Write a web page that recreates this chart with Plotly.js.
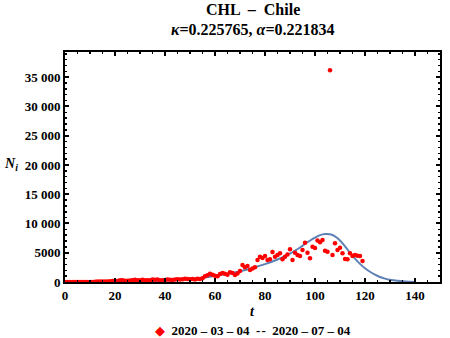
<!DOCTYPE html>
<html>
<head>
<meta charset="utf-8">
<script src="https://cdn.plot.ly/plotly-3.0.1.min.js"></script>
<style>
  html, body { margin: 0; padding: 0; background: #fff; }
</style>
</head>
<body>
<div id="chart" style="width:450px;height:338px;"></div>
<script>
// daily new cases, t = days since 2020-03-04
var tDays = [];
for (var i = 0; i < 120; i++) tDays.push(i);
var newCases = [
  0, 1, 1, 2, 0, 3, 4, 5, 10, 13,
  18, 14, 43, 81, 82, 92, 104, 91, 114, 176,
  220, 164, 304, 299, 224, 229, 272, 300, 369, 307,
  304, 373, 301, 306, 310, 426, 399, 426, 286, 312,
  357, 425, 390, 358, 436, 466, 445, 473, 552, 494,
  482, 520, 442, 552, 507, 620, 985, 1138, 1427, 1228,
  1066, 980, 1373, 1533, 1391, 1247, 1658, 1525, 1197, 1450,
  1880, 2900, 2500, 2750, 2050, 2300, 2510, 3760, 4330, 4100,
  4450, 3760, 3900, 5130, 4330, 4620, 4900, 3900, 4330, 4700,
  5590, 3760, 5010, 4620, 4450, 5470, 6720, 5010, 4050, 6040,
  5820, 7070, 6780, 7180, 5350, 5170, 36180, 4620, 6610, 5470,
  5870, 4900, 3910, 3880, 4900, 4450, 4620, 4500, 4450, 3590
];

// fitted model curve
var fitT = [0, 10, 20, 30, 40, 45, 50, 55, 60, 65, 70, 75, 80, 85, 90, 94, 97, 100,
            102, 104, 106, 108, 110, 112, 114, 116, 118, 120, 122, 124, 126, 128, 130, 133, 136, 140];
var fitN = [0, 10, 40, 110, 250, 360, 520, 720, 1050, 1400, 1850, 2400, 3050, 3850, 4850, 5900, 6800, 7600,
            8000, 8200, 8150, 7800, 7100, 6100, 5000, 4000, 3100, 2350, 1750, 1250, 850, 580, 380, 200, 90, 20];

var xTickVals = [0, 20, 40, 60, 80, 100, 120, 140];
var yTickVals = [0, 5000, 10000, 15000, 20000, 25000, 30000, 35000];
var yTickText = ['0', '5000', '10 000', '15 000', '20 000', '25 000', '30 000', '35 000'];

var serif = 'Liberation Serif, Times New Roman, serif';

var data = [
  {
    x: fitT,
    y: fitN,
    type: 'scatter',
    mode: 'lines',
    line: { color: '#5E81B5', width: 2, shape: 'spline' },
    hoverinfo: 'skip'
  },
  {
    x: tDays,
    y: newCases,
    type: 'scatter',
    mode: 'markers',
    marker: { color: '#FF0000', size: 4.5 }
  }
];

var axisCommon = {
  showgrid: false,
  zeroline: false,
  showline: true,
  linecolor: '#000',
  linewidth: 2,
  mirror: 'ticks',
  ticks: 'inside',
  ticklen: 4,
  tickwidth: 2,
  tickcolor: '#000',
  tickfont: { family: serif, size: 13, color: '#000', weight: 'bold' }
};

var layout = {
  width: 450,
  height: 338,
  showlegend: false,
  paper_bgcolor: '#fff',
  plot_bgcolor: '#fff',
  margin: { l: 65, r: 10, t: 52, b: 56 },
  xaxis: Object.assign({}, axisCommon, {
    range: [0, 150],
    tickvals: xTickVals,
    minor: { dtick: 5, ticks: 'inside', ticklen: 2, tickwidth: 1.5, tickcolor: '#000' }
  }),
  yaxis: Object.assign({}, axisCommon, {
    range: [0, 39300],
    tickvals: yTickVals,
    ticktext: yTickText,
    minor: { dtick: 1000, ticks: 'inside', ticklen: 2, tickwidth: 1.5, tickcolor: '#000' }
  }),
  annotations: [
    {
      xref: 'paper', yref: 'paper',
      x: 0.5, y: 1.183,
      xanchor: 'center', yanchor: 'middle',
      text: '<b>CHL  \u2013  Chile</b>',
      showarrow: false,
      font: { family: serif, size: 16, color: '#000' }
    },
    {
      xref: 'paper', yref: 'paper',
      x: 0.5, y: 1.096,
      xanchor: 'center', yanchor: 'middle',
      text: '<b><i>\u03ba</i>=0.225765, <i>\u03b1</i>=0.221834</b>',
      showarrow: false,
      font: { family: serif, size: 16, color: '#000' }
    },
    {
      xref: 'paper', yref: 'paper',
      x: -0.145, y: 0.51,
      xanchor: 'center', yanchor: 'middle',
      text: '<b><i>N<sub>i</sub></i></b>',
      showarrow: false,
      font: { family: serif, size: 14, color: '#000' }
    },
    {
      xref: 'paper', yref: 'paper',
      x: 0.5, y: -0.13,
      xanchor: 'center', yanchor: 'middle',
      text: '<b><i>t</i></b>',
      showarrow: false,
      font: { family: serif, size: 14, color: '#000' }
    },
    {
      xref: 'paper', yref: 'paper',
      x: 0.5, y: -0.213,
      xanchor: 'center', yanchor: 'middle',
      text: '<span style="color:#FF0000">\u25C6</span>  <b>2020 \u2013 03 \u2013 04  -\u200A-  2020 \u2013 07 \u2013 04</b>',
      showarrow: false,
      font: { family: serif, size: 13, color: '#000' }
    }
  ]
};

Plotly.newPlot('chart', data, layout, { displayModeBar: false, staticPlot: true });
</script>
</body>
</html>
